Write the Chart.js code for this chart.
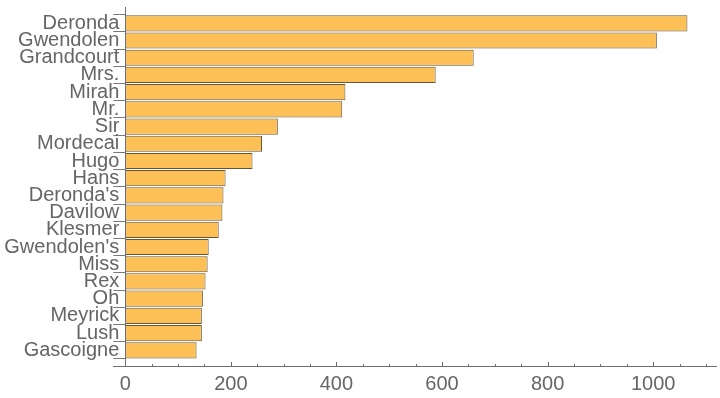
<!DOCTYPE html>
<html>
<head>
<meta charset="utf-8">
<script src="https://cdn.jsdelivr.net/npm/chart.js@4/dist/chart.umd.min.js"></script>
<style>
  html, body { margin: 0; padding: 0; background: #ffffff; }
  #wrap { width: 720px; height: 398px; position: relative; }
</style>
</head>
<body>
<div id="wrap"><canvas id="c" width="720" height="398"></canvas></div>
<script>
const categories = ["Deronda", "Gwendolen", "Grandcourt", "Mrs.", "Mirah", "Mr.", "Sir", "Mordecai", "Hugo", "Hans",
  "Deronda's", "Davilow", "Klesmer", "Gwendolen's", "Miss", "Rex", "Oh", "Meyrick", "Lush", "Gascoigne"];
const counts = [1065, 1007, 660, 588, 417, 411, 289, 259, 241, 190,
  186, 184, 177, 158, 156, 152, 147, 145, 145, 135];
const xMin = 0;
const xMax = 1121;
const xMajorStep = 200;
const xMinorStep = 50;

const axisColor = '#6e6e6e';
const textColor = '#656565';

const axesPlugin = {
  id: 'mmaAxes',
  afterDraw(chart) {
    const ctx = chart.ctx;
    const ca = chart.chartArea;
    const xs = chart.scales.x;
    const axisY = Math.round(ca.bottom + 7) + 0.5;
    const axisX = Math.round(ca.left) + 0.5;
    ctx.save();
    ctx.strokeStyle = axisColor;
    ctx.lineWidth = 1;
    // y axis line
    ctx.beginPath();
    ctx.moveTo(axisX, Math.round(ca.top - 8));
    ctx.lineTo(axisX, axisY);
    ctx.stroke();
    // x axis line
    ctx.beginPath();
    ctx.moveTo(Math.round(ca.left - 12), axisY);
    ctx.lineTo(ca.right, axisY);
    ctx.stroke();
    // minor and major ticks
    for (let v = xMin; v <= xMax; v += xMinorStep) {
      const px = Math.round(xs.getPixelForValue(v)) + 0.5;
      const major = (v % xMajorStep) === 0;
      ctx.beginPath();
      ctx.moveTo(px, axisY);
      ctx.lineTo(px, axisY - (major ? 4.5 : 2.5));
      ctx.stroke();
    }
    ctx.restore();
  }
};

new Chart(document.getElementById('c'), {
  type: 'bar',
  data: {
    labels: categories,
    datasets: [{
      data: counts,
      backgroundColor: 'rgb(252,192,86)',
      borderColor: '#665535',
      borderWidth: 1,
      borderSkipped: false,
      barPercentage: 0.94,
      categoryPercentage: 1.0
    }]
  },
  options: {
    indexAxis: 'y',
    responsive: false,
    devicePixelRatio: 1,
    animation: false,
    layout: { padding: { top: 14.7, right: 3, left: 0, bottom: 0 } },
    plugins: {
      legend: { display: false },
      tooltip: { enabled: false }
    },
    scales: {
      x: {
        type: 'linear',
        position: 'bottom',
        min: xMin,
        max: xMax,
        grid: { display: false, drawTicks: false },
        border: { display: false },
        ticks: {
          stepSize: xMajorStep,
          includeBounds: false,
          color: textColor,
          font: { family: 'Liberation Sans', size: 20 },
          padding: 14,
          maxRotation: 0,
          callback: (v) => String(v)
        },
        afterFit(scale) { scale.height = 39.1; }
      },
      y: {
        type: 'category',
        position: 'left',
        offset: true,
        grid: {
          offset: true,
          drawOnChartArea: false,
          drawTicks: true,
          tickLength: 12,
          color: '#7a7a7a',
          lineWidth: 1
        },
        border: { display: false },
        ticks: {
          color: textColor,
          font: { family: 'Liberation Sans', size: 20 },
          padding: -6,
          autoSkip: false
        },
        afterFit(scale) { scale.width = 125.3; }
      }
    }
  },
  plugins: [axesPlugin]
});
</script>
</body>
</html>
